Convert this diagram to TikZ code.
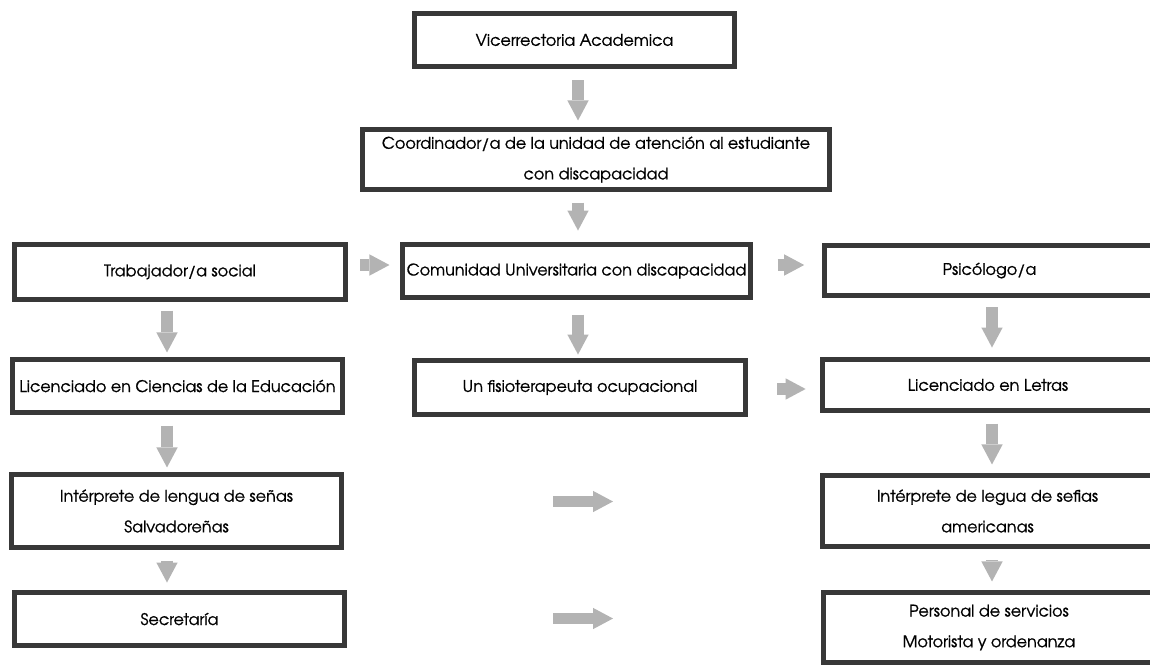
\documentclass[tikz,border=0pt]{standalone}
\usepackage{fontspec}
\setmainfont{TeX Gyre Adventor}[FakeBold=0.9]
\usepackage{tikz}
\usetikzlibrary{arrows.meta}
\definecolor{arrgray}{HTML}{B3B3B3}
\definecolor{edgegray}{HTML}{383838}
\tikzset{
  unit/.style={draw=edgegray,line width=3.75pt,fill=white,minimum width=248pt,inner sep=0pt,align=center,font=\fontsize{12}{23}\selectfont},
  flw/.style={arrgray,line width=8.5pt,-{Triangle[length=15pt,width=16pt,line width=0pt]}}
}

\begin{document}
\begin{tikzpicture}[x=0.75pt,y=-0.75pt]
\useasboundingbox (0,0) rectangle (1150,671);
\clip (0,0) rectangle (1150,671);
\node[unit,minimum width=240pt,minimum height=39.75pt] (vra) at (574.5,40) {Vicerrectoria Academica};
\node[unit,minimum width=350.25pt,minimum height=45pt] (crd) at (596,159.5) {Coordinador/a de la unidad de atención al estudiante\\con discapacidad};
\node[unit,minimum height=41.25pt] (trab) at (180,272) {Trabajador/a social};
\node[unit,minimum width=261pt,minimum height=39.75pt] (comu) at (576.5,271) {Comunidad Universitaria con discapacidad};
\node[unit,minimum height=37.5pt] (psic) at (989.5,270.5) {Psicólogo/a};
\node[unit,minimum height=39.75pt] (lcie) at (177.5,386) {Licenciado en Ciencias de la Educación};
\node[unit,minimum height=40.5pt] (fisio) at (580,387.5) {Un fisioterapeuta ocupacional};
\node[unit,minimum height=38.25pt] (letr) at (988,385) {Licenciado en Letras};
\node[unit,minimum height=54.75pt] (ilsa) at (176.5,511) {Intérprete de lengua de señas\\Salvadoreñas};
\node[unit,minimum height=53.25pt] (iame) at (987.5,511) {Intérprete de legua de sefias\\americanas};
\node[unit,minimum height=39.75pt] (secr) at (179.5,619) {Secretaría};
\node[unit,minimum height=52.5pt] (pers) at (989,627.5) {Personal de servicios\\Motorista y ordenanza};
\coordinate (lc) at (167,0);
\coordinate (mc) at (578,0);
\coordinate (rc) at (992,0);
\coordinate (r3) at (0,265);
\coordinate (r4) at (0,389);
\coordinate (f5a) at (553,501.5);
\coordinate (f5b) at (613,501.5);
\coordinate (f6a) at (553,618.5);
\coordinate (f6b) at (613,618.5);
\draw[flw,shorten <=8.6pt,shorten >=4.9pt] (mc |- vra.south) -- (mc |- crd.north);
\draw[flw,shorten <=7.9pt,shorten >=8.6pt] (mc |- crd.south) -- (mc |- comu.north);
\draw[flw,shorten <=9.4pt,shorten >=7.9pt] (trab.east |- r3) -- (comu.west |- r3);
\draw[flw,shorten <=18.4pt,shorten >=13.1pt] (comu.east |- r3) -- (psic.west |- r3);
\draw[flw,shorten <=6.4pt,shorten >=3.4pt] (lc |- trab.south) -- (lc |- lcie.north);
\draw[flw,shorten <=10.9pt,shorten >=2.6pt] (mc |- comu.south) -- (mc |- fisio.north);
\draw[flw,shorten <=7.1pt,shorten >=7.1pt] (rc |- psic.south) -- (rc |- letr.north);
\draw[flw,shorten <=22.1pt,shorten >=10.9pt] (fisio.east |- r4) -- (letr.west |- r4);
\draw[flw,shorten <=7.9pt,shorten >=3.4pt] (lc |- lcie.south) -- (lc |- ilsa.north);
\draw[flw,shorten <=7.9pt,shorten >=6.4pt] (rc |- letr.south) -- (rc |- iame.north);
\draw[flw,shorten <=7.9pt,shorten >=5.6pt] (lc |- ilsa.south) -- (lc |- secr.north);
\draw[flw,shorten <=8.6pt,shorten >=6.4pt] (rc |- iame.south) -- (rc |- pers.north);
\draw[flw] (f5a) -- (f5b);
\draw[flw] (f6a) -- (f6b);
\end{tikzpicture}
\end{document}
